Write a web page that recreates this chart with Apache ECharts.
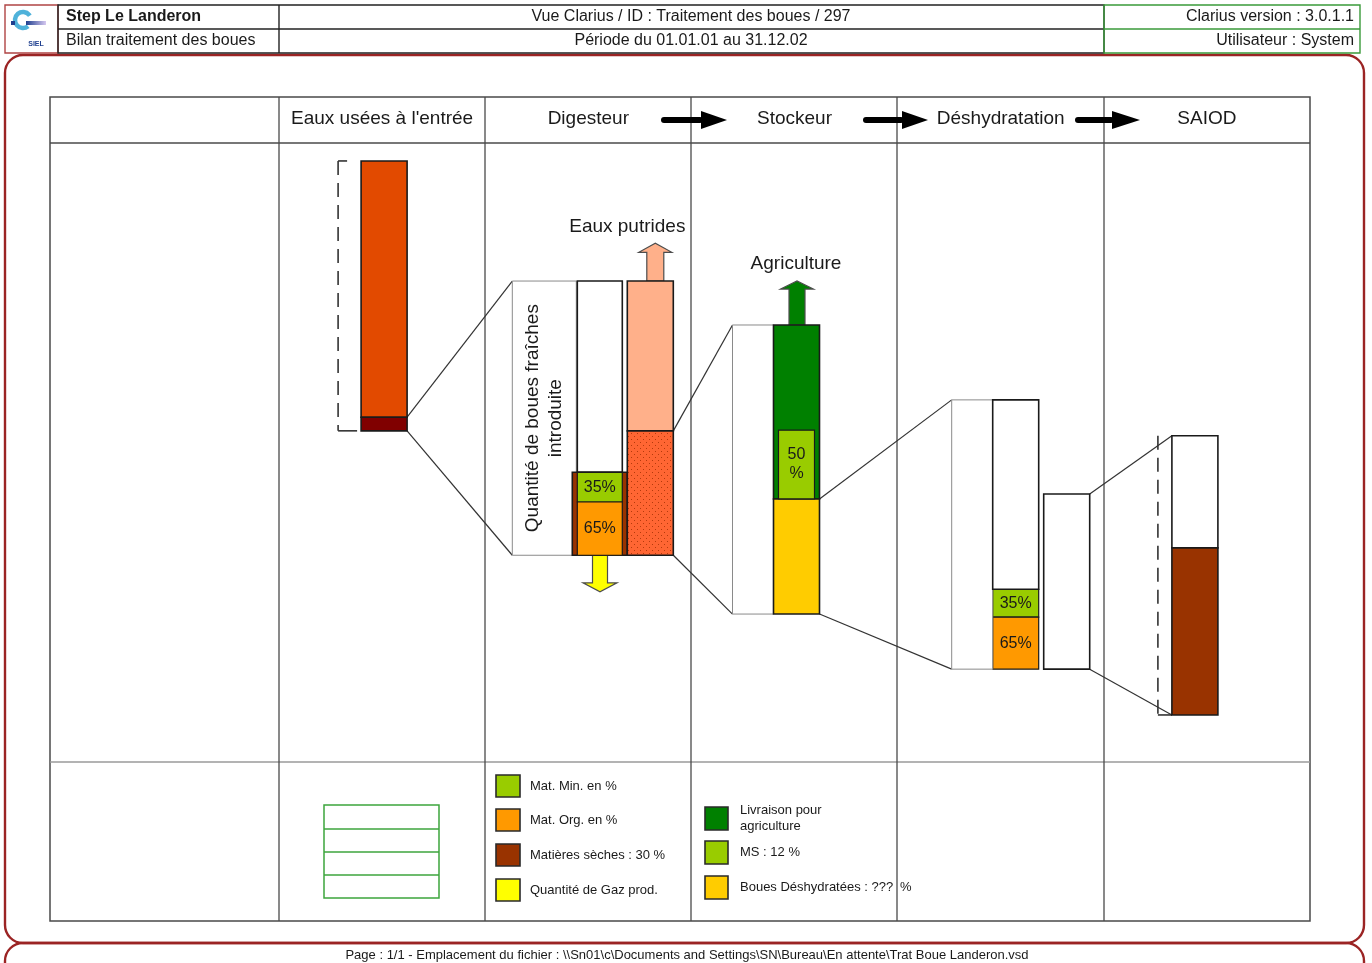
<!DOCTYPE html>
<html>
<head>
<meta charset="utf-8">
<script src="https://cdn.jsdelivr.net/npm/echarts@6/dist/echarts.min.js"></script>
<style>html,body{margin:0;padding:0;background:#fff;}#c{width:1372px;height:963px;}</style>
</head>
<body>
<div id="c"></div>
<script>
// ---------------- DATA ----------------
const stages = ["Eaux usées à l'entrée", 'Digesteur', 'Stockeur', 'Déshydratation', 'SAIOD'];

// levels on a 0–100 volume scale; item = [stage index, lower level, upper level]
const eauxUsees        = [[0, 55.7, 97.1]];
const bouesBrutes      = [[0, 53.5, 55.7]];
const bouesIntroduites = [[1, 33.4, 77.7]];
const digesteurReste   = [[1, 46.8, 77.7]];
const matSechesDig     = [[1, 33.4, 46.8]];
const matMin           = [[1, 42.0, 46.8], [3, 23.4, 27.9]];
const matOrg           = [[1, 33.4, 42.0], [3, 15.0, 23.4]];
const eauxPutrides     = [[1, 53.5, 77.7]];
const bouesDigerees    = [[1, 33.4, 53.5]];
const stockeurEntree   = [[2, 23.9, 70.6]];
const livraisonAgri    = [[2, 42.5, 70.6]];
const msStockeur       = [[2, 42.5, 53.6]];
const bouesDeshy       = [[2, 23.9, 42.5]];
const deshyEntree      = [[3, 15.0, 58.5]];
const deshyReste       = [[3, 27.9, 58.5]];
const deshySortie      = [[3, 15.0, 43.3]];
const saiodReste       = [[4, 34.6, 52.7]];
const saiodSeches      = [[4, 7.6, 34.6]];

// flows: [stage, start level, tip level]
const fluxPutrides = [[1, 77.7, 83.8]];
const fluxAgri     = [[2, 70.6, 77.7]];
const fluxGaz      = [[1, 33.4, 27.5]];

// total brackets: [stage, low, high]
const totaux = [[0, 53.5, 97.1], [4, 7.6, 52.7]];

// links between stages: [from stage, level, to stage, level]
const liaisons = [
  [0, 55.7, 1, 77.7], [0, 53.5, 1, 33.4],
  [1, 53.5, 2, 70.6], [1, 33.4, 2, 23.9],
  [2, 42.5, 3, 58.5], [2, 23.9, 3, 15.0],
  [3, 43.3, 4, 52.7], [3, 15.0, 4, 7.6]
];

// texts
const matMinLabels = ['35%', '35%'];
const matOrgLabels = ['65%', '65%'];
const msLabels = ['50\n%'];
const introLabels = ['Quantité de boues fraîches\nintroduite'];
const putridesLabels = ['Eaux putrides'];
const agriLabels = ['Agriculture'];
const legendDigesteur = ['Mat. Min. en %', 'Mat. Org. en %', 'Matières sèches : 30 %', 'Quantité de Gaz prod.'];
const legendStockeur = ['Livraison pour\nagriculture', 'MS : 12 %', 'Boues Déshydratées : ???'];
const headerLeft = ['Step Le Landeron', 'Bilan traitement des boues'];
const headerMid = ['Vue Clarius / ID : Traitement des boues / 297', 'Période du 01.01.01 au 31.12.02'];
const headerRight = ['Clarius version : 3.0.1.1', 'Utilisateur : System'];
const footerText = 'Page : 1/1 - Emplacement du fichier : \\\\Sn01\\c\\Documents and Settings\\SN\\Bureau\\En attente\\Trat Boue Landeron.vsd';

// ---------------- STYLE / LAYOUT ----------------
const FONT = '"Liberation Sans", Arial, sans-serif';
const INK = '#1a1a1a';
const BAR = '#1a1a1a';
const BOX = '#8a8a8a';

const dots = document.createElement('canvas');
dots.width = 6; dots.height = 6;
(function () {
  const g = dots.getContext('2d');
  g.fillStyle = '#FF6633'; g.fillRect(0, 0, 6, 6);
  g.fillStyle = '#B53A0C'; g.fillRect(1, 1, 1, 1); g.fillRect(4, 4, 1, 1);
})();

const ST = {
  eauxUsees:        { off: [[-21, 25]], fill: '#E24A00' },
  bouesBrutes:      { off: [[-21, 25]], fill: '#800000' },
  bouesIntroduites: { off: [[-76, -12]], fill: '#fff', stroke: BOX, lw: 1, font: '19px ' + FONT, lh: 23, rot: Math.PI / 2 },
  digesteurReste:   { off: [[-11, 34]], fill: '#fff' },
  matSechesDig:     { off: [[-16, 39]], fill: '#993300' },
  matMin:           { off: [[-11, 34], [-8, 38]], fill: '#99CC00', lw: 1.2 },
  matOrg:           { off: [[-11, 34], [-8, 38]], fill: '#FF9900', lw: 1.2 },
  eauxPutrides:     { off: [[39, 85]], fill: '#FFB08A' },
  bouesDigerees:    { off: [[39, 85]], fill: { image: dots, repeat: 'repeat' } },
  stockeurEntree:   { off: [[-62, -21]], fill: '#fff', stroke: BOX, lw: 1 },
  livraisonAgri:    { off: [[-21, 25]], fill: '#008000' },
  msStockeur:       { off: [[-16, 20]], fill: '#99CC00', lw: 1.2, lh: 19 },
  bouesDeshy:       { off: [[-21, 25]], fill: '#FFCC00' },
  deshyEntree:      { off: [[-49, -8]], fill: '#fff', stroke: BOX, lw: 1 },
  deshyReste:       { off: [[-8, 38]], fill: '#fff' },
  deshySortie:      { off: [[43, 89]], fill: '#fff' },
  saiodReste:       { off: [[-35, 11]], fill: '#fff' },
  saiodSeches:      { off: [[-35, 11]], fill: '#993300' }
};

function block(name, data, st, labels) {
  return {
    type: 'custom', name: name, data: data, silent: true,
    encode: { x: 0, y: [1, 2] },
    renderItem: function (params, api) {
      const i = params.dataIndex;
      const s = api.value(0);
      const lo = api.coord([s, api.value(1)]);
      const hi = api.coord([s, api.value(2)]);
      const off = st.off[Math.min(i, st.off.length - 1)];
      const el = {
        type: 'rect',
        shape: { x: lo[0] + off[0], y: hi[1], width: off[1] - off[0], height: lo[1] - hi[1] },
        style: { fill: st.fill, stroke: st.stroke || BAR, lineWidth: st.lw || 1.6 }
      };
      if (labels && labels[i]) {
        el.textContent = {
          style: { text: labels[i], fill: INK, font: st.font || ('16px ' + FONT), lineHeight: st.lh || 20, align: 'center', verticalAlign: 'middle' }
        };
        el.textConfig = { position: 'inside', rotation: st.rot || 0 };
      }
      return el;
    }
  };
}

function flow(name, data, st, labels) {
  return {
    type: 'custom', name: name, data: data, silent: true, z: 1,
    encode: { x: 0, y: [1, 2] },
    renderItem: function (params, api) {
      const i = params.dataIndex;
      const s = api.value(0);
      const b = api.coord([s, api.value(1)]);
      const t = api.coord([s, api.value(2)]);
      const cx = b[0] + st.cx;
      const dir = t[1] < b[1] ? 1 : -1;
      const hb = t[1] + dir * st.head;
      const pts = [[cx - st.shaft, b[1]], [cx - st.shaft, hb], [cx - st.wing, hb], [cx, t[1]],
                   [cx + st.wing, hb], [cx + st.shaft, hb], [cx + st.shaft, b[1]]];
      const children = [{ type: 'polygon', shape: { points: pts }, style: { fill: st.fill, stroke: '#4d4d4d', lineWidth: 1.2 } }];
      if (labels && labels[i]) {
        children.push({ type: 'text', style: { text: labels[i], x: cx + st.tx, y: t[1] - st.ty, fill: INK, font: '19px ' + FONT, align: 'center', verticalAlign: 'middle' } });
      }
      return { type: 'group', children: children };
    }
  };
}

const bracketStyle = [{ x: -44, top: -35, bot: -25 }, { x: -49, top: -49, bot: -35 }];
const linkFrom = [25, 25, 85, 85, 25, 25, 89, 89];
const linkTo = [-76, -76, -62, -62, -49, -49, -35, -35];

const series = [
  {
    type: 'custom', name: 'Liaisons', data: liaisons, silent: true, z: 1,
    encode: { x: [0, 2], y: [1, 3] },
    renderItem: function (params, api) {
      const i = params.dataIndex;
      const a = api.coord([api.value(0), api.value(1)]);
      const b = api.coord([api.value(2), api.value(3)]);
      return { type: 'line', shape: { x1: a[0] + linkFrom[i], y1: a[1], x2: b[0] + linkTo[i], y2: b[1] }, style: { stroke: '#333', lineWidth: 1.2 } };
    }
  },
  {
    type: 'custom', name: 'Totaux', data: totaux, silent: true,
    encode: { x: 0, y: [1, 2] },
    renderItem: function (params, api) {
      const i = params.dataIndex;
      const s = api.value(0);
      const lo = api.coord([s, api.value(1)]);
      const hi = api.coord([s, api.value(2)]);
      const o = bracketStyle[i];
      const x = lo[0] + o.x;
      const sty = { stroke: '#333', lineWidth: 1.6 };
      return {
        type: 'group', children: [
          { type: 'line', shape: { x1: x, y1: hi[1], x2: x, y2: lo[1] }, style: { stroke: '#333', lineWidth: 1.6, lineDash: [14, 8] } },
          { type: 'line', shape: { x1: x, y1: hi[1], x2: lo[0] + o.top, y2: hi[1] }, style: sty },
          { type: 'line', shape: { x1: x, y1: lo[1], x2: lo[0] + o.bot, y2: lo[1] }, style: sty }
        ]
      };
    }
  },
  flow('Eaux putrides', fluxPutrides, { cx: 67, shaft: 8.5, wing: 16.5, head: 9, fill: '#FFB08A', tx: -28, ty: 17 }, putridesLabels),
  flow('Agriculture', fluxAgri, { cx: 2.5, shaft: 8, wing: 16.5, head: 8, fill: '#008000', tx: -1, ty: 17 }, agriLabels),
  flow('Quantité de Gaz prod.', fluxGaz, { cx: 11.7, shaft: 7.5, wing: 17, head: 9, fill: '#FFFF00' }),
  block('Eaux usées', eauxUsees, ST.eauxUsees),
  block('Boues brutes', bouesBrutes, ST.bouesBrutes),
  block('Boues fraîches introduites', bouesIntroduites, ST.bouesIntroduites, introLabels),
  block('Digesteur', digesteurReste, ST.digesteurReste),
  block('Matières sèches', matSechesDig, ST.matSechesDig),
  block('Mat. Min.', matMin, ST.matMin, matMinLabels),
  block('Mat. Org.', matOrg, ST.matOrg, matOrgLabels),
  block('Eaux putrides', eauxPutrides, ST.eauxPutrides),
  block('Boues digérées', bouesDigerees, ST.bouesDigerees),
  block('Stockeur entrée', stockeurEntree, ST.stockeurEntree),
  block('Livraison pour agriculture', livraisonAgri, ST.livraisonAgri),
  block('Boues déshydratées', bouesDeshy, ST.bouesDeshy),
  block('MS', msStockeur, ST.msStockeur, msLabels),
  block('Déshydratation entrée', deshyEntree, ST.deshyEntree),
  block('Déshydratation', deshyReste, ST.deshyReste),
  block('Déshydratation sortie', deshySortie, ST.deshySortie),
  block('SAIOD', saiodReste, ST.saiodReste),
  block('SAIOD matières sèches', saiodSeches, ST.saiodSeches)
];

// ---------------- DECORATION (page frame, table, legend) ----------------
function ln(x1, y1, x2, y2, c, w) { return { type: 'line', silent: true, shape: { x1: x1, y1: y1, x2: x2, y2: y2 }, style: { stroke: c, lineWidth: w } }; }
function bx(x, y, w, h, fill, stroke, lw, r) { return { type: 'rect', silent: true, shape: { x: x, y: y, width: w, height: h, r: r || 0 }, style: { fill: fill, stroke: stroke, lineWidth: lw } }; }
function tx(t, x, y, size, align, weight, color) {
  return { type: 'text', silent: true, style: { text: t, x: x, y: y, font: (weight || 'normal') + ' ' + size + 'px ' + FONT, fill: color || INK, align: align || 'left', verticalAlign: 'middle', lineHeight: size + 3 } };
}

const g = [];
// page frames
g.push(bx(5, 55, 1359, 888, null, '#9B2424', 2.4, 18));
g.push(bx(5, 943, 1359, 60, null, '#9B2424', 2.4, 18));
g.push(tx(footerText, 687, 955, 13, 'center'));
// header cells
g.push(bx(5, 5, 53, 48, '#fff', '#B04444', 1.4));
g.push(bx(58, 5, 1046, 48, null, '#222', 1.4));
g.push(ln(58, 29, 1104, 29, '#222', 1.4));
g.push(ln(279, 5, 279, 53, '#222', 1.4));
g.push(bx(1104, 5, 256, 48, null, '#3A9A3A', 1.4));
g.push(ln(1104, 29, 1360, 29, '#3A9A3A', 1.4));
g.push(tx(headerLeft[0], 66, 17, 16, 'left', 'bold'));
g.push(tx(headerLeft[1], 66, 41, 16, 'left'));
g.push(tx(headerMid[0], 691, 17, 16, 'center'));
g.push(tx(headerMid[1], 691, 41, 16, 'center'));
g.push(tx(headerRight[0], 1354, 17, 16, 'right'));
g.push(tx(headerRight[1], 1354, 41, 16, 'right'));
// logo
g.push({ type: 'arc', silent: true, shape: { cx: 23, cy: 20, r: 8, startAngle: Math.PI * 0.28, endAngle: Math.PI * 1.82, clockwise: true }, style: { stroke: '#4FB2DA', lineWidth: 4.5, fill: null } });
g.push(bx(11, 21, 4, 4, '#1F3F8F', null, 0));
g.push({ type: 'rect', silent: true, shape: { x: 26, y: 21, width: 20, height: 4 }, style: { fill: new echarts.graphic.LinearGradient(0, 0, 1, 0, [{ offset: 0, color: '#1F3F8F' }, { offset: 1, color: '#D6C8F0' }]) } });
g.push(tx('SIEL', 36, 44, 7, 'center', 'bold', '#1F3F8F'));
// table
g.push(bx(50, 97, 1260, 824, null, '#4a4a4a', 1.5));
g.push(ln(50, 143, 1310, 143, '#4a4a4a', 1.3));
g.push(ln(50, 762, 1310, 762, '#9a9a9a', 1.3));
[279, 485, 691, 897, 1104].forEach(function (x) { g.push(ln(x, 97, x, 921, '#4a4a4a', 1.3)); });
// header flow arrows
[[661, 701, 727], [863, 902, 928], [1075, 1112, 1140]].forEach(function (a) {
  g.push(bx(a[0], 117, a[1] - a[0] + 2, 6, '#000', null, 0, 3));
  g.push({ type: 'polygon', silent: true, shape: { points: [[a[1], 111], [a[2], 120], [a[1], 129]] }, style: { fill: '#000' } });
});
// green grid (Eaux usées legend cell)
g.push(bx(324, 805, 115, 93, null, '#3DA53D', 1.5));
[829, 852, 875].forEach(function (y) { g.push(ln(324, y, 439, y, '#3DA53D', 1.5)); });
// legend Digesteur
const legColD = ['#99CC00', '#FF9900', '#993300', '#FFFF00'];
const legYD = [775, 809, 844, 879];
legendDigesteur.forEach(function (t, i) {
  g.push(bx(496, legYD[i], 24, 22, legColD[i], '#2a2a2a', 1.6));
  g.push(tx(t, 530, legYD[i] + 11, 13, 'left'));
});
// legend Stockeur
const legColS = ['#008000', '#99CC00', '#FFCC00'];
const legYS = [807, 841, 876];
legendStockeur.forEach(function (t, i) {
  g.push(bx(705, legYS[i], 23, 23, legColS[i], '#2a2a2a', 1.6));
  g.push(tx(t, 740, legYS[i] + 11.5, 13, 'left'));
});
g.push(tx('%', 900, 887, 13, 'left'));

// ---------------- CHART ----------------
const chart = echarts.init(document.getElementById('c'));
chart.setOption({
  animation: false,
  backgroundColor: '#fff',
  grid: { left: 279, right: 62, top: 143, bottom: 201, containLabel: false, outerBoundsMode: 'none' },
  xAxis: {
    type: 'category', data: stages, position: 'top',
    axisLine: { show: false }, axisTick: { show: false }, splitLine: { show: false },
    axisLabel: { interval: 0, margin: 24, verticalAlign: 'middle', fontSize: 19, color: INK, fontFamily: FONT }
  },
  yAxis: { type: 'value', min: 0, max: 100, show: false },
  graphic: { elements: g },
  series: series
});
</script>
</body>
</html>
